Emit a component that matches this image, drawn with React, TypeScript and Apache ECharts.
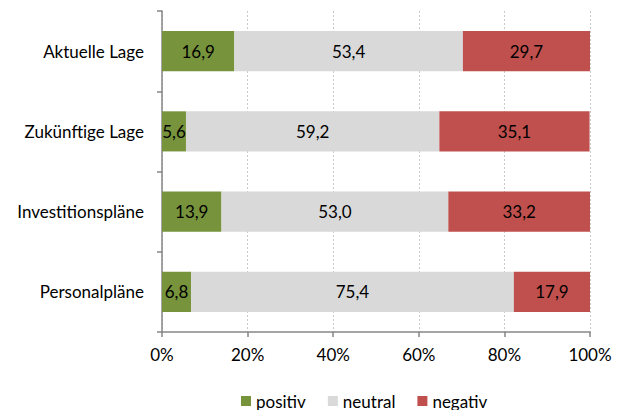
import React, { useEffect, useRef } from "react";
import * as echarts from "echarts";

const categories = ["Aktuelle Lage", "Zukünftige Lage", "Investitionspläne", "Personalpläne"];
const positiv = [16.9, 5.6, 13.9, 6.8];
const neutral = [53.4, 59.2, 53.0, 75.4];
const negativ = [29.7, 35.1, 33.2, 17.9];
const xTicks = [0, 20, 40, 60, 80, 100];

const FONT = "Lato, 'Open Sans', sans-serif";
const FS = 17;

export default function App() {
  const ref = useRef<HTMLDivElement>(null);
  useEffect(() => {
    if (!ref.current) return;
    const chart = echarts.init(ref.current, undefined, { renderer: "svg" });
    const label = {
      show: true,
      position: "inside",
      color: "#000",
      fontSize: FS,
      fontFamily: FONT,
      formatter: (p: any) => p.value.toFixed(1).replace(".", ","),
    };
    const mk = (name: string, data: number[], color: string) => ({
      name,
      type: "bar",
      stack: "all",
      data,
      barWidth: "50%",
      itemStyle: { color },
      label,
    });
    chart.setOption({
      animation: false,
      textStyle: { fontFamily: FONT },
      grid: { left: 162, right: 33, top: 11, bottom: 78, containLabel: false },
      legend: {
        top: 391,
        left: 241,
        padding: 0,
        itemWidth: 10,
        itemHeight: 10,
        itemGap: 22,
        icon: "rect",
        textStyle: { fontSize: FS, color: "#000", fontFamily: FONT, lineHeight: 20 },
        data: ["positiv", "neutral", "negativ"],
      },
      xAxis: {
        type: "value",
        min: xTicks[0],
        max: xTicks[xTicks.length - 1],
        interval: 20,
        axisLine: { show: true, lineStyle: { color: "#868686", width: 1.5 } },
        axisTick: { show: true, length: 5, lineStyle: { color: "#868686", width: 1.5 } },
        axisLabel: { formatter: "{value}%", fontSize: FS, color: "#000", margin: 14, fontFamily: FONT },
        splitLine: { show: true, lineStyle: { color: "#c8c8c8", type: [2, 2], width: 1 } },
      },
      yAxis: {
        type: "category",
        data: categories,
        inverse: true,
        axisLine: { show: true, lineStyle: { color: "#868686", width: 1.5 } },
        axisTick: { show: true, length: 5, lineStyle: { color: "#868686", width: 1.5 } },
        axisLabel: { fontSize: FS, color: "#000", margin: 18, fontFamily: FONT },
      },
      series: [
        mk("positiv", positiv, "#77933C"),
        mk("neutral", neutral, "#D9D9D9"),
        mk("negativ", negativ, "#C0504D"),
      ],
    });
    return () => chart.dispose();
  }, []);
  return <div ref={ref} style={{ width: 623, height: 410, position: "absolute", left: 0, top: 0 }} />;
}
